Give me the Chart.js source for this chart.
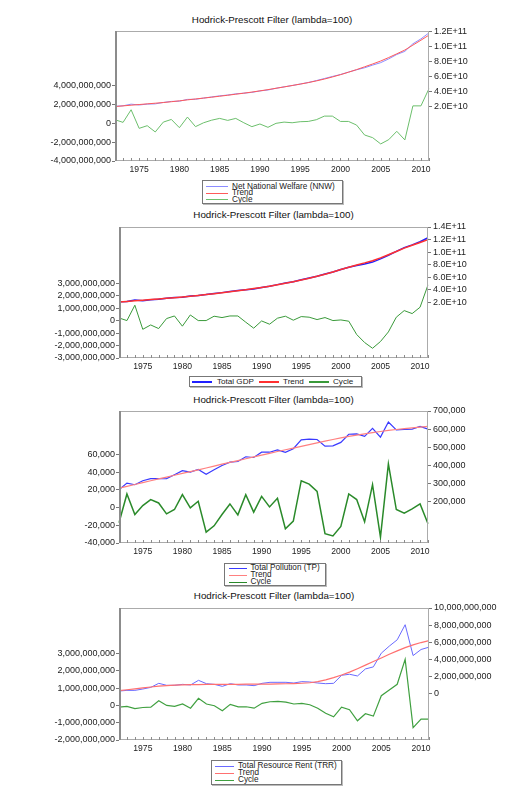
<!DOCTYPE html>
<html>
<head>
<meta charset="utf-8">
<title>Hodrick-Prescott Filter</title>
<script src="https://cdn.jsdelivr.net/npm/chart.js@4.4.1/dist/chart.umd.min.js"></script>
<style>
  body { margin: 0; width: 531px; height: 792px; position: relative; background: #fff; overflow: hidden;
         font-family: "Liberation Sans", Arial, sans-serif; }
  canvas { position: absolute; left: 0; }
  .title { position: absolute; white-space: nowrap; font-size: 9.8px; color: #111; transform: translate(-50%, -50%); }
  .legend { position: absolute; box-sizing: border-box; border: 1px solid #777; box-shadow: 1px 1px 0 #bbb;
            background: #fff; font-size: 8.2px; color: #222; overflow: hidden; }
  .legend .row { position: absolute; display: flex; align-items: center; white-space: nowrap; height: 8px; line-height: 8px; }
  .legend .ln { display: inline-block; height: 0; border-top-style: solid; border-top-width: 1px; }
</style>
</head>
<body>

<div class="title" style="left:272px;top:18.5px">Hodrick-Prescott Filter (lambda=100)</div>
<canvas id="nnwChart" width="531" height="156" style="top:21px"></canvas>
<div class="legend" style="left:202px;top:180px;width:141px;height:24px">
  <div class="row" style="left:3px;top:1.5px"><span class="ln" style="width:22px;margin-right:4px;border-top-color:#8c8cff"></span>Net National Welfare (NNW)</div>
  <div class="row" style="left:3px;top:8px"><span class="ln" style="width:22px;margin-right:4px;border-top-color:#ff5a5a"></span>Trend</div>
  <div class="row" style="left:3px;top:14.5px"><span class="ln" style="width:22px;margin-right:4px;border-top-color:#6cbf6c"></span>Cycle</div>
</div>

<div class="title" style="left:273.5px;top:214px">Hodrick-Prescott Filter (lambda=100)</div>
<canvas id="gdpChart" width="531" height="157" style="top:217px"></canvas>
<div class="legend" style="left:189px;top:376px;width:173px;height:10.5px;font-size:8.1px">
  <div class="row" style="left:2px;top:0.5px"><span class="ln" style="width:20px;margin-right:5px;border-top-width:2px;border-top-color:#2020ff"></span>Total GDP</div>
  <div class="row" style="left:69px;top:0.5px"><span class="ln" style="width:20px;margin-right:4px;border-top-width:2px;border-top-color:#ff3030"></span>Trend</div>
  <div class="row" style="left:119px;top:0.5px"><span class="ln" style="width:20px;margin-right:4px;border-top-width:2px;border-top-color:#3a9a3a"></span>Cycle</div>
</div>

<div class="title" style="left:273.5px;top:398.5px">Hodrick-Prescott Filter (lambda=100)</div>
<canvas id="tpChart" width="531" height="158" style="top:401px"></canvas>
<div class="legend" style="left:223.5px;top:563px;width:102.5px;height:23px">
  <div class="row" style="left:4px;top:0"><span class="ln" style="width:18px;margin-right:4px;border-top-color:#3a3aff"></span>Total Pollution (TP)</div>
  <div class="row" style="left:4px;top:7.3px"><span class="ln" style="width:18px;margin-right:4px;border-top-color:#ff8080"></span>Trend</div>
  <div class="row" style="left:4px;top:14px"><span class="ln" style="width:18px;margin-right:4px;border-top-color:#2a8a2a"></span>Cycle</div>
</div>

<div class="title" style="left:274px;top:595px">Hodrick-Prescott Filter (lambda=100)</div>
<canvas id="trrChart" width="531" height="158" style="top:598px"></canvas>
<div class="legend" style="left:210.5px;top:760px;width:131px;height:24.5px">
  <div class="row" style="left:3.5px;top:1px"><span class="ln" style="width:19px;margin-right:4px;border-top-color:#6a6aff"></span>Total Resource Rent (TRR)</div>
  <div class="row" style="left:3.5px;top:8px"><span class="ln" style="width:19px;margin-right:4px;border-top-color:#ff7070"></span>Trend</div>
  <div class="row" style="left:3.5px;top:15px"><span class="ln" style="width:19px;margin-right:4px;border-top-color:#40a040"></span>Cycle</div>
</div>

<script>
const years = [1972, 1973, 1974, 1975, 1976, 1977, 1978, 1979, 1980, 1981,
               1982, 1983, 1984, 1985, 1986, 1987, 1988, 1989, 1990, 1991,
               1992, 1993, 1994, 1995, 1996, 1997, 1998, 1999, 2000, 2001,
               2002, 2003, 2004, 2005, 2006, 2007, 2008, 2009, 2010, 2011];

// values in billions unless noted
const nnwSeries = [19.7, 20.3, 22.5, 21.4, 22.6, 22.9, 24.8, 26.2, 26.5, 28.9,
                   29.1, 30.7, 32.2, 33.7, 34.8, 36.4, 37.3, 38.4, 40.3, 41.6,
                   43.9, 45.8, 47.6, 49.6, 51.7, 54.2, 57.0, 59.8, 62.4, 65.7,
                   68.8, 71.5, 75.1, 78.4, 83.5, 89.4, 93.6, 103.8, 110.4, 118.5];
const nnwTrend = [19.3, 20.2, 21.1, 22.0, 22.9, 23.8, 24.7, 25.8, 27.0, 28.3,
                  29.5, 30.7, 31.9, 33.2, 34.5, 35.9, 37.3, 38.8, 40.4, 42.1,
                  43.9, 45.7, 47.6, 49.5, 51.5, 53.8, 56.3, 59.1, 62.2, 65.5,
                  69.0, 72.8, 76.6, 80.6, 85.3, 90.3, 95.4, 102.0, 108.6, 115.5];
const nnwCycle = [0.35, 0.07, 1.40, -0.56, -0.28, -0.94, 0.10, 0.38, -0.49, 0.63,
                  -0.38, 0.03, 0.30, 0.49, 0.28, 0.49, 0.03, -0.38, -0.10, -0.45,
                  -0.03, 0.10, 0.03, 0.14, 0.17, 0.35, 0.73, 0.73, 0.17, 0.17,
                  -0.21, -1.26, -1.54, -2.20, -1.75, -0.87, -1.78, 1.81, 1.81, 3.63];

const gdpSeries = [21.2, 21.9, 24.0, 23.0, 24.4, 25.1, 26.9, 28.2, 28.5, 30.6,
                   31.4, 32.7, 34.5, 35.8, 37.5, 39.1, 40.3, 41.6, 44.1, 45.8,
                   48.5, 51.1, 53.2, 56.2, 59.0, 61.9, 65.3, 68.6, 72.4, 76.0,
                   78.7, 81.2, 84.3, 89.3, 95.1, 101.3, 107.2, 111.6, 116.6, 122.9];
const gdpTrend = [21.0, 21.9, 22.8, 23.7, 24.7, 25.7, 26.7, 27.8, 28.9, 30.1,
                  31.4, 32.7, 34.1, 35.6, 37.1, 38.7, 40.4, 42.2, 44.1, 46.1,
                  48.3, 50.7, 53.2, 55.9, 58.7, 61.8, 65.1, 68.6, 72.4, 76.0,
                  79.8, 83.0, 86.5, 91.0, 96.0, 101.0, 106.4, 111.0, 115.5, 120.0];
const gdpCycle = [0.21, 0.00, 1.23, -0.70, -0.35, -0.64, 0.16, 0.37, -0.45, 0.45,
                  0.00, 0.00, 0.35, 0.24, 0.37, 0.37, -0.13, -0.61, -0.03, -0.29,
                  0.19, 0.35, 0.03, 0.32, 0.27, 0.08, 0.24, 0.00, 0.05, -0.05,
                  -1.12, -1.76, -2.22, -1.68, -0.91, 0.27, 0.80, 0.56, 1.07, 2.86];

// pollution in plain units
const tpSeries = [266000, 303000, 294000, 316000, 327000, 327000, 328000, 349000, 371000, 363000,
                  378000, 352000, 376000, 400000, 418000, 422000, 448000, 444000, 473000, 473000,
                  486000, 472000, 492000, 541000, 545000, 543000, 506000, 508000, 527000, 572000,
                  574000, 560000, 604000, 556000, 639000, 596000, 598000, 600000, 615000, 600000];
const tpTrend = [275000, 285000, 295000, 305500, 316000, 326000, 336000, 346000, 356000, 366000,
                 376000, 386000, 396500, 407000, 417000, 427000, 437000, 447000, 457000, 467000,
                 477000, 486500, 496000, 505500, 515000, 524500, 534000, 543000, 552000, 560000,
                 567000, 574000, 581000, 587000, 593000, 598000, 603000, 607000, 611000, 615000];
const tpCycle = [-17200, 15300, -7900, 2200, 9000, 5200, -7100, -2200, 14600, -400,
                 7100, -27700, -20600, -7900, 4100, -8200, 14600, -5200, 12700, 700,
                 10500, -23900, -15300, 30300, 26500, 18300, -29500, -32100, -21300, 15300,
                 9000, -16100, 25800, -33300, 49300, -2200, -6400, -1500, 4100, -18300];

const trrSeries = [0.31, 0.39, 0.39, 0.55, 0.74, 1.21, 0.98, 0.98, 1.09, 1.02,
                   1.56, 1.17, 1.09, 0.86, 1.17, 1.02, 1.02, 0.94, 1.21, 1.33,
                   1.33, 1.33, 1.25, 1.41, 1.37, 1.25, 1.17, 1.21, 2.15, 2.27,
                   2.07, 2.89, 3.13, 4.73, 5.55, 6.29, 8.05, 4.45, 5.16, 5.43];
const trrTrend = [0.35, 0.46, 0.57, 0.67, 0.78, 0.88, 0.95, 1.00, 1.03, 1.05,
                  1.07, 1.08, 1.09, 1.09, 1.10, 1.10, 1.11, 1.11, 1.12, 1.13,
                  1.14, 1.16, 1.18, 1.22, 1.28, 1.42, 1.62, 1.87, 2.18, 2.52,
                  2.92, 3.33, 3.75, 4.17, 4.60, 5.00, 5.38, 5.70, 5.97, 6.20];
const trrCycle = [-0.10, -0.06, -0.19, -0.12, -0.10, 0.27, 0.00, -0.06, 0.08, -0.16,
                  0.41, 0.08, -0.02, -0.31, 0.06, -0.08, -0.08, -0.16, 0.12, 0.21,
                  0.23, 0.19, 0.08, 0.12, 0.04, -0.16, -0.45, -0.66, -0.10, -0.25,
                  -0.89, -0.48, -0.62, 0.56, 0.89, 1.22, 2.66, -1.28, -0.79, -0.79];

// tick values shown on each axis
const nnwLeftTicks = [-4e9, -2e9, 0, 2e9, 4e9];
const nnwRightTicks = [2e10, 4e10, 6e10, 8e10, 1e11, 1.2e11];
const gdpLeftTicks = [-3e9, -2e9, -1e9, 0, 1e9, 2e9, 3e9];
const gdpRightTicks = [2e10, 4e10, 6e10, 8e10, 1e11, 1.2e11, 1.4e11];
const tpLeftTicks = [-40000, -20000, 0, 20000, 40000, 60000];
const tpRightTicks = [200000, 300000, 400000, 500000, 600000, 700000];
const trrLeftTicks = [-2e9, -1e9, 0, 1e9, 2e9, 3e9];
const trrRightTicks = [0, 2e9, 4e9, 6e9, 8e9, 1e10];

const bn = arr => arr.map(v => v * 1e9);

Chart.defaults.font.family = '"Liberation Sans", Arial, sans-serif';
Chart.defaults.color = '#222';

const commas = v => Number(v).toLocaleString('en-US');
const sci = v => {
    const e = Math.floor(Math.log10(v) + 1e-9);
    return (v / Math.pow(10, e)).toFixed(1) + 'E+' + e;
};

// plot frame plus small year ticks pointing up into the plot
const framePlugin = {
    id: 'frame',
    afterDatasetsDraw(chart) {
        const { ctx, chartArea: a } = chart;
        const x = chart.scales.x;
        ctx.save();
        ctx.lineWidth = 1;
        ctx.strokeStyle = '#ababab';
        ctx.strokeRect(a.left + 0.5, a.top + 0.5, a.right - a.left - 1, a.bottom - a.top - 1);
        ctx.strokeStyle = '#8c8c8c';
        ctx.lineWidth = 2;
        ctx.beginPath();
        ctx.moveTo(a.left + 1, a.top);
        ctx.lineTo(a.left + 1, a.bottom);
        ctx.stroke();
        ctx.lineWidth = 1;
        ctx.beginPath();
        years.forEach((yr, i) => {
            const px = Math.round(x.getPixelForTick(i)) + 0.5;
            ctx.moveTo(px, a.bottom);
            ctx.lineTo(px, a.bottom - 3);
        });
        ctx.stroke();
        ctx.restore();
    }
};

function makeChart(id, p) {
    return new Chart(document.getElementById(id), {
        type: 'line',
        data: {
            labels: years,
            datasets: [
                { label: p.name, data: p.series, yAxisID: 'yR', borderColor: p.colors[0], borderWidth: p.widths[0], order: 1 },
                { label: 'Trend', data: p.trend, yAxisID: 'yR', borderColor: p.colors[1], borderWidth: p.widths[1], order: 0 },
                { label: 'Cycle', data: p.cycle, yAxisID: 'y', borderColor: p.colors[2], borderWidth: p.widths[2], order: 2 }
            ]
        },
        options: {
            responsive: false,
            animation: false,
            events: [],
            elements: { point: { radius: 0 }, line: { tension: 0 } },
            layout: { padding: { top: 10, left: 0, right: 0, bottom: 0 } },
            plugins: { legend: { display: false }, tooltip: { enabled: false } },
            scales: {
                x: {
                    type: 'category',
                    offset: false,
                    grid: { display: false, drawTicks: false },
                    border: { display: false },
                    ticks: {
                        autoSkip: false, maxRotation: 0, padding: 3,
                        font: { size: 8.6 },
                        callback: (v, i) => years[i] % 5 === 0 ? String(years[i]) : ''
                    },
                    afterFit: s => { s.height = 16; }
                },
                y: {
                    position: 'left',
                    min: p.left[0], max: p.left[1],
                    afterBuildTicks: s => { s.ticks = p.leftTicks.map(v => ({ value: v })); },
                    grid: { drawOnChartArea: false, tickLength: 3, color: '#777' },
                    border: { display: false },
                    ticks: { font: { size: 9 }, padding: 1, callback: commas },
                    afterFit: s => { s.width = p.leftW; }
                },
                yR: {
                    position: 'right',
                    min: p.right[0], max: p.right[1],
                    afterBuildTicks: s => { s.ticks = p.rightTicks.map(v => ({ value: v })); },
                    grid: { drawOnChartArea: false, tickLength: 3, color: '#777' },
                    border: { display: false },
                    ticks: { font: { size: 9 }, padding: 2, callback: p.rightFmt },
                    afterFit: s => { s.width = p.rightW; }
                }
            }
        },
        plugins: [framePlugin]
    });
}

makeChart('nnwChart', {
    name: 'Net National Welfare (NNW)',
    series: bn(nnwSeries), trend: bn(nnwTrend), cycle: bn(nnwCycle),
    colors: ['#8c8cff', '#ff5a5a', '#6cbf6c'], widths: [1, 1, 1],
    left: [-4e9, 9.7e9], leftTicks: nnwLeftTicks,
    right: [-5.4e10, 1.21e11], rightTicks: nnwRightTicks, rightFmt: sci,
    leftW: 115, rightW: 102
});

makeChart('gdpChart', {
    name: 'Total GDP',
    series: bn(gdpSeries), trend: bn(gdpTrend), cycle: bn(gdpCycle),
    colors: ['#2020ff', '#ff3030', '#3a9a3a'], widths: [1.5, 1.5, 1],
    left: [-3e9, 7.5e9], leftTicks: gdpLeftTicks,
    right: [-6.8e10, 1.4e11], rightTicks: gdpRightTicks, rightFmt: sci,
    leftW: 119, rightW: 103
});

makeChart('tpChart', {
    name: 'Total Pollution (TP)',
    series: tpSeries, trend: tpTrend, cycle: tpCycle,
    colors: ['#3a3aff', '#ff8080', '#2a8a2a'], widths: [1.2, 1.2, 1.5],
    left: [-40000, 109000], leftTicks: tpLeftTicks,
    right: [-27000, 700000], rightTicks: tpRightTicks, rightFmt: commas,
    leftW: 119, rightW: 103
});

makeChart('trrChart', {
    name: 'Total Resource Rent (TRR)',
    series: bn(trrSeries), trend: bn(trrTrend), cycle: bn(trrCycle),
    colors: ['#6a6aff', '#ff7070', '#40a040'], widths: [1, 1.2, 1.2],
    left: [-2e9, 5.63e9], leftTicks: trrLeftTicks,
    right: [-5.4e9, 1e10], rightTicks: trrRightTicks, rightFmt: commas,
    leftW: 119, rightW: 102
});
</script>
</body>
</html>
